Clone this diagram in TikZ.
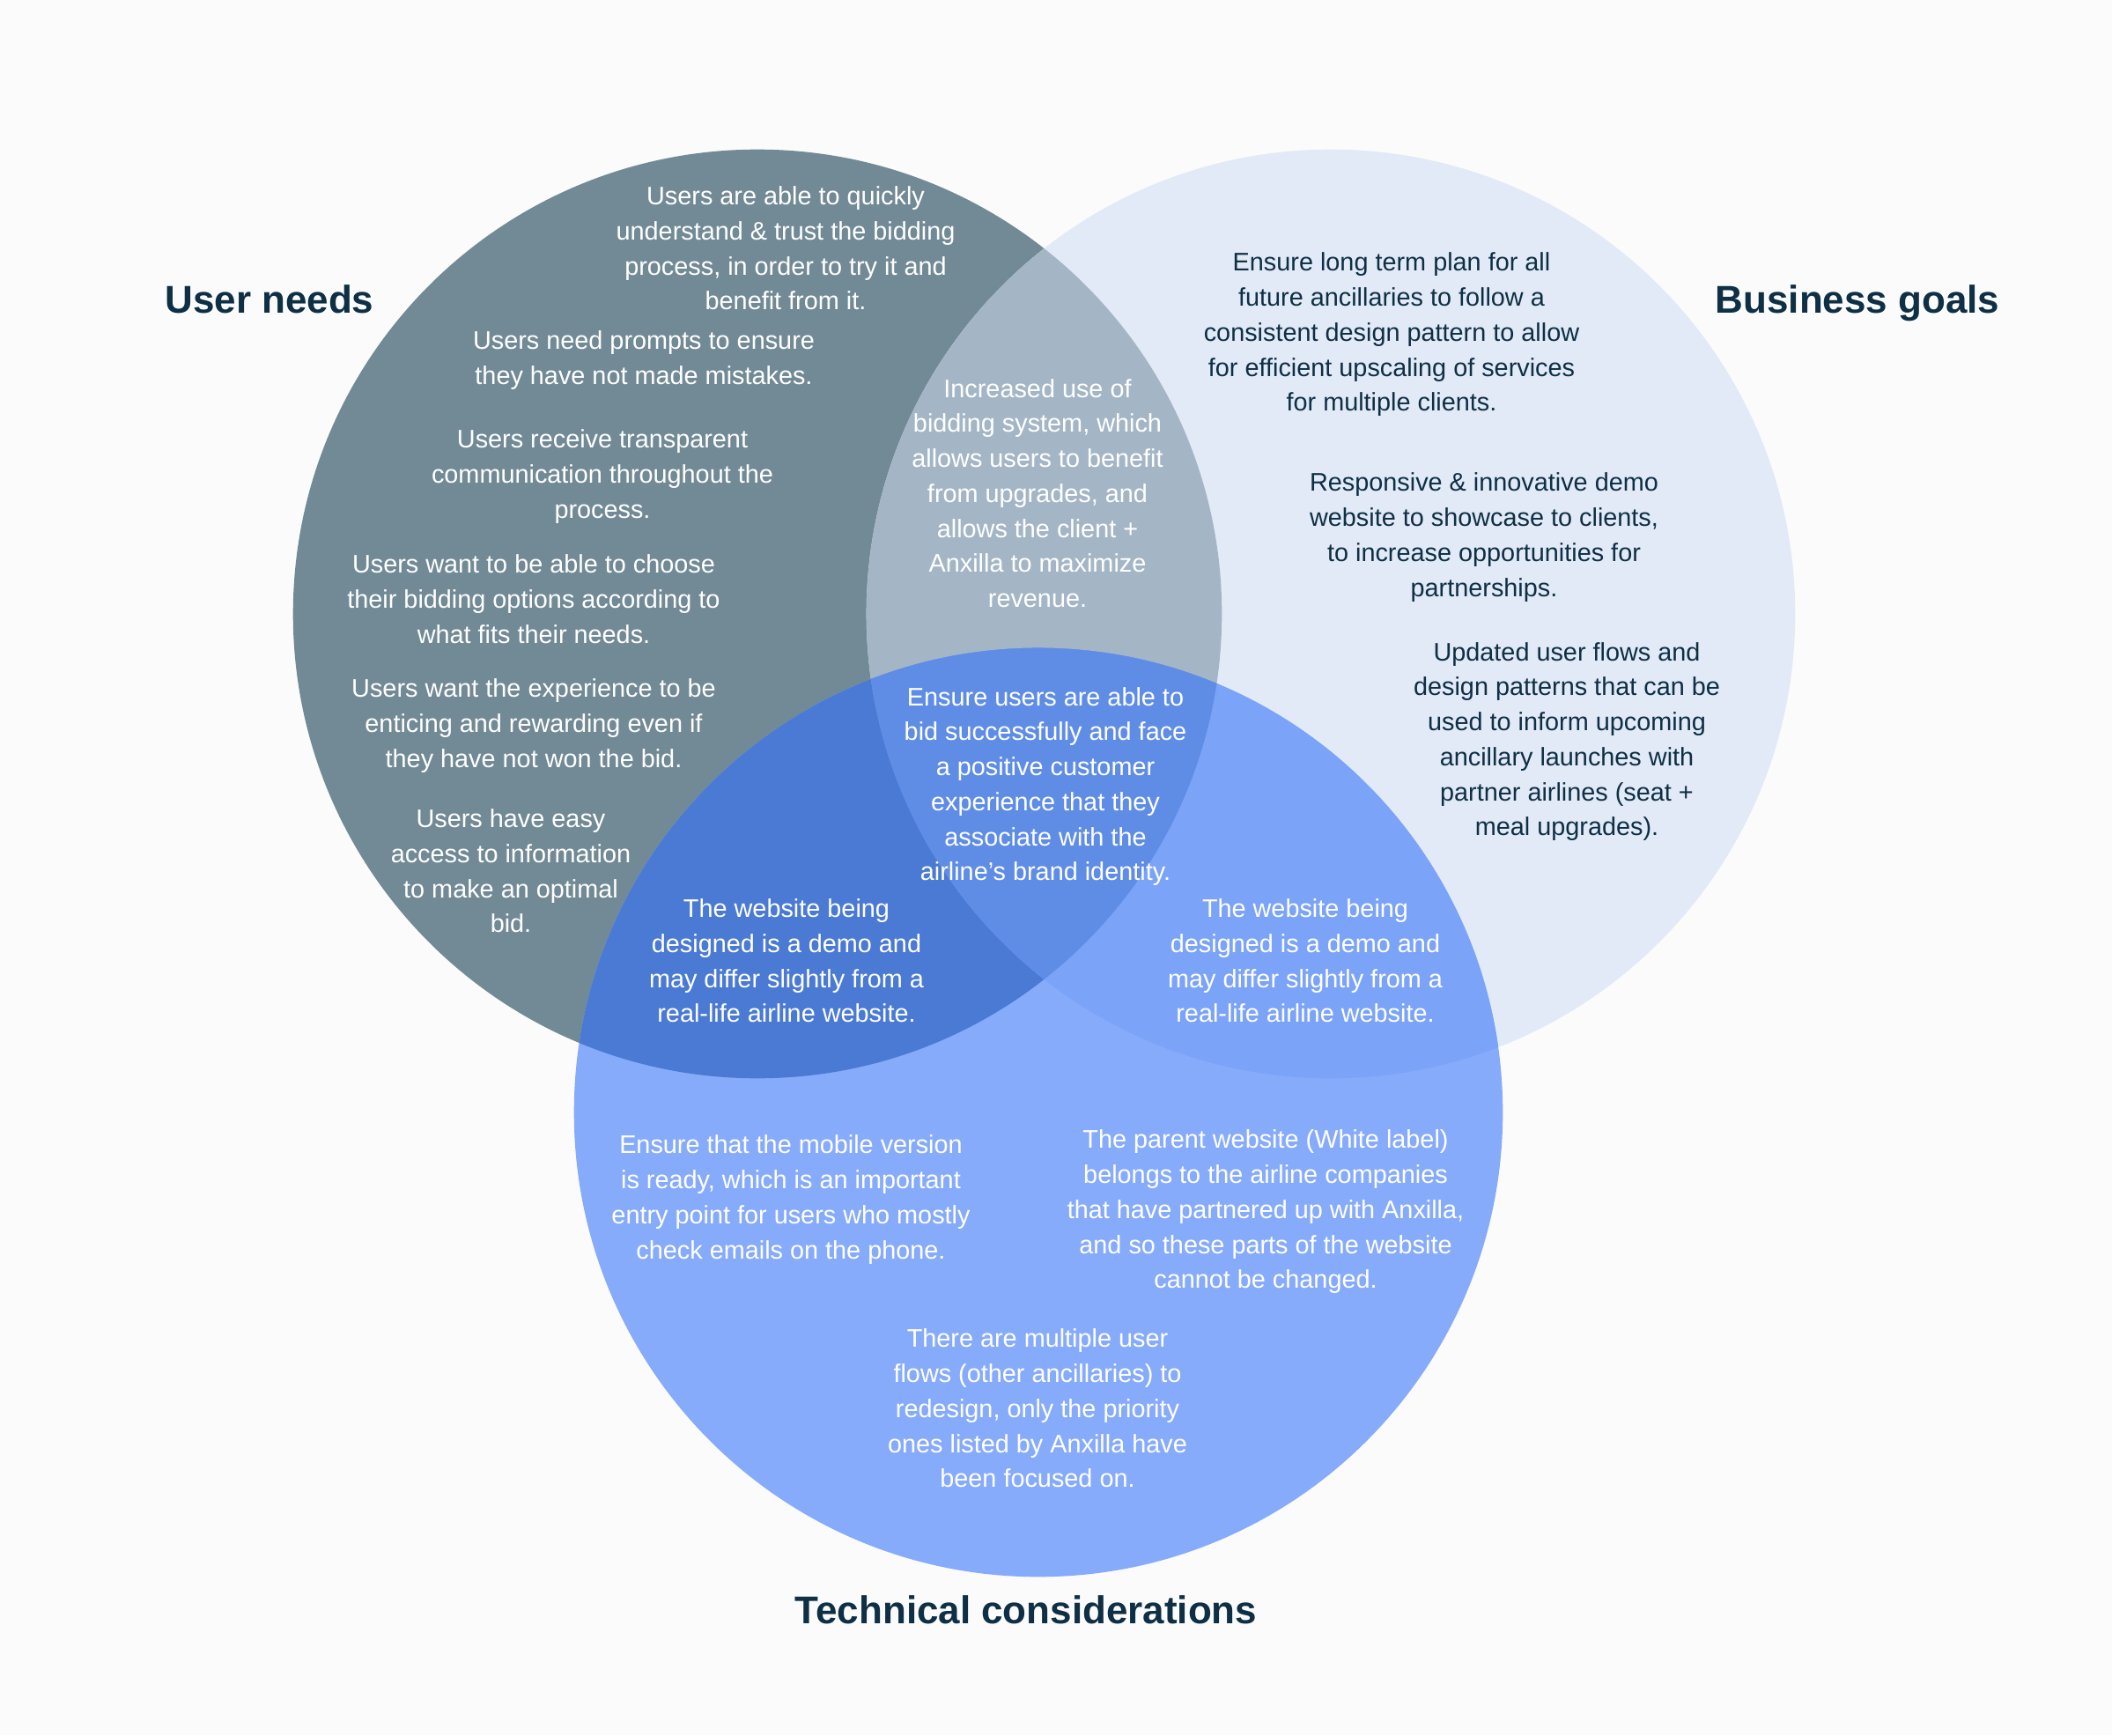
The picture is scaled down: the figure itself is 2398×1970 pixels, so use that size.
\documentclass[tikz,border=0pt]{standalone}
\usepackage{fontspec}
\setmainfont{Liberation Sans}
\usetikzlibrary{positioning}
\definecolor{pagebg}{HTML}{FBFBFC}
\definecolor{usercol}{HTML}{728A96}
\definecolor{bizcol}{HTML}{E2EAF7}
\definecolor{ubcol}{HTML}{A4B6C6}
\definecolor{techcol}{HTML}{87ABFB}
\definecolor{utcol}{HTML}{4A7AD3}
\definecolor{btcol}{HTML}{7BA3F8}
\definecolor{ubtcol}{HTML}{5F8DE6}
\definecolor{navy}{HTML}{0E2F44}

\begin{document}
\begin{tikzpicture}[x=0.01cm, y=-0.01cm,
  txt/.style={align=center, inner sep=0pt, text=white, font=\fontsize{8.2}{11.3}\selectfont},
  dtxt/.style={txt, text=navy},
  ttl/.style={inner sep=0pt, anchor=base, text=navy, font=\fontsize{12.5}{15}\selectfont\bfseries}]
\useasboundingbox (0,0) rectangle (2398,1970);
\fill[pagebg] (0,0) rectangle (2398,1970);
\coordinate (cu) at (860,697);
\coordinate (cb) at (1511,697);
\coordinate (ct) at (1179,1263);
% circles and overlaps
\fill[usercol] (cu) circle[radius=5.27cm];
\fill[bizcol] (cb) circle[radius=5.27cm];
\begin{scope}
  \clip (cu) circle[radius=5.27cm];
  \fill[ubcol] (cb) circle[radius=5.27cm];
\end{scope}
\fill[techcol] (ct) circle[radius=5.27cm];
\begin{scope}
  \clip (ct) circle[radius=5.27cm];
  \fill[utcol] (cu) circle[radius=5.27cm];
  \fill[btcol] (cb) circle[radius=5.27cm];
  \clip (cu) circle[radius=5.27cm];
  \fill[ubtcol] (cb) circle[radius=5.27cm];
\end{scope}
% titles
\node[ttl] (tuser) at (306,355) {User needs};
\node[ttl] (tbiz) at (2109,355) {Business goals};
\node[ttl] (ttech) at (1165,1843) {Technical considerations};
% user needs
\node[txt] (u1) at (892,282) {Users are able to quickly\\understand \& trust the bidding\\process, in order to try it and\\benefit from it.};
\node[txt] (u2) at (731,409) {Users need prompts to ensure\\they have not made mistakes.};
\node[txt] (u3) at (684,541) {Users receive transparent\\communication throughout the\\process.};
\node[txt] (u4) at (606,680) {Users want to be able to choose\\their bidding options according to\\what fits their needs.};
\node[txt] (u5) at (606,824) {Users want the experience to be\\enticing and rewarding even if\\they have not won the bid.};
\node[txt] (u6) at (580,989) {Users have easy\\access to information\\to make an optimal\\bid.};
% user + business
\node[txt] (ub) at (1178,560) {Increased use of\\bidding system, which\\allows users to benefit\\from upgrades, and\\allows the client +\\Anxilla to maximize\\revenue.};
% business goals
\node[dtxt] (b1) at (1580,380) {Ensure long term plan for all\\future ancillaries to follow a\\consistent design pattern to allow\\for efficient upscaling of services\\for multiple clients.};
\node[dtxt] (b2) at (1685,610) {Responsive \& innovative demo\\website to showcase to clients,\\to increase opportunities for\\partnerships.};
\node[dtxt] (b3) at (1779,842) {Updated user flows and\\design patterns that can be\\used to inform upcoming\\ancillary launches with\\partner airlines (seat +\\meal upgrades).};
% all three
\node[txt] (ubt) at (1187,893) {Ensure users are able to\\bid successfully and face\\a positive customer\\experience that they\\associate with the\\airline’s brand identity.};
% overlaps with technical
\node[txt] (ut) at (893,1091) {The website being\\designed is a demo and\\may differ slightly from a\\real-life airline website.};
\node[txt] (bt) at (1482,1091) {The website being\\designed is a demo and\\may differ slightly from a\\real-life airline website.};
% technical considerations
\node[txt] (t1) at (898,1362) {Ensure that the mobile version\\is ready, which is an important\\entry point for users who mostly\\check emails on the phone.};
\node[txt] (t2) at (1437,1376) {The parent website (White label)\\belongs to the airline companies\\that have partnered up with Anxilla,\\and so these parts of the website\\cannot be changed.};
\node[txt] (t3) at (1178,1599) {There are multiple user\\flows (other ancillaries) to\\redesign, only the priority\\ones listed by Anxilla have\\been focused on.};
\end{tikzpicture}
\end{document}
